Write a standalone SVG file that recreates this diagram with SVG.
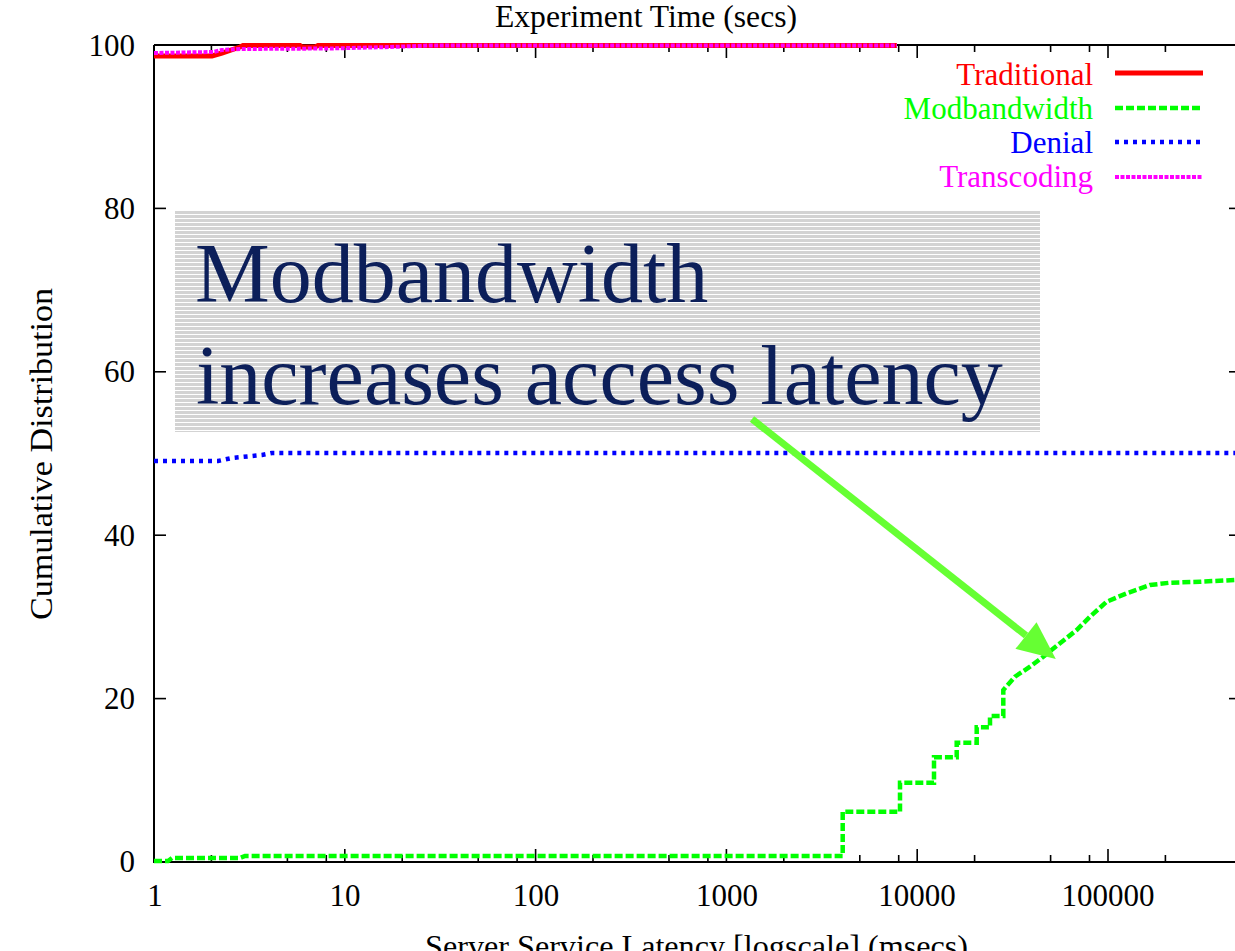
<svg xmlns="http://www.w3.org/2000/svg" width="1235" height="951" viewBox="0 0 1235 951">
  <style>
    .lbl { font-family: "Liberation Serif", "Times New Roman", serif; font-size: 31px; fill: #000; }
    .ylbl { text-anchor: end; }
    .xlbl { text-anchor: middle; }
    .axis { stroke: #000; stroke-width: 2; fill: none; }
    .tick { stroke: #000; stroke-width: 1.6; }
    .series { fill: none; stroke-linejoin: miter; stroke-linecap: butt; }
    .trad { stroke: #ff0000; stroke-width: 5; }
    .modbw { stroke: #00ff00; stroke-width: 4.5; stroke-dasharray: 8 3; }
    .denial { stroke: #0000ff; stroke-width: 4.5; stroke-dasharray: 4 5; }
    .trans { stroke: #ff00ff; stroke-width: 4; stroke-dasharray: 4 1.5; }
    .legend-text { text-anchor: end; }
    .note { font-family: "Liberation Serif", "Times New Roman", serif; font-size: 84px; fill: #0c1f5a; }
  </style>
  <defs>
    <pattern id="stripes" patternUnits="userSpaceOnUse" x="0" y="211" width="4" height="4">
      <rect x="0" y="0" width="4" height="4" fill="#ffffff"/>
      <rect x="0" y="0" width="4" height="3" fill="#d3d3d3"/>
    </pattern>
    <marker id="arrowhead" markerUnits="userSpaceOnUse" markerWidth="40" markerHeight="36" viewBox="0 -18 40 36" refX="0" refY="0" orient="auto" overflow="visible">
      <path d="M0,-17 L38,0 L0,17 z" fill="#66ff33"/>
    </marker>
  </defs>

  <rect x="0" y="0" width="1235" height="951" fill="#ffffff"/>

  <!-- frame -->
  <g id="axes">
    <path class="axis" d="M154,45 L1235,45 M154,45 L154,862 L1235,862"/>
  </g>

  <!-- y ticks, left and mirrored right -->
  <g id="y-ticks" class="tick">
    <line x1="154" y1="208.4" x2="166" y2="208.4"/>
    <line x1="154" y1="371.8" x2="166" y2="371.8"/>
    <line x1="154" y1="535.2" x2="166" y2="535.2"/>
    <line x1="154" y1="698.6" x2="166" y2="698.6"/>
    <line x1="1229" y1="208.4" x2="1235" y2="208.4"/>
    <line x1="1229" y1="371.8" x2="1235" y2="371.8"/>
    <line x1="1229" y1="535.2" x2="1235" y2="535.2"/>
    <line x1="1229" y1="698.6" x2="1235" y2="698.6"/>
  </g>

  <!-- x ticks (log scale), bottom and mirrored top -->
  <g id="x-ticks" class="tick">
    <path d="M344.8,862 V849 M535.6,862 V849 M726.4,862 V849 M917.2,862 V849 M1108,862 V849
             M211.4,862 V855 M287.4,862 V855 M326.3,862 V855
             M402.2,862 V855 M478.2,862 V855 M517.1,862 V855
             M593,862 V855 M669,862 V855 M707.9,862 V855
             M783.8,862 V855 M859.8,862 V855 M898.7,862 V855
             M974.6,862 V855 M1050.6,862 V855 M1089.5,862 V855
             M1165.4,862 V855"/>
    <path d="M344.8,45 V58 M535.6,45 V58 M726.4,45 V58 M917.2,45 V58 M1108,45 V58
             M211.4,45 V52 M287.4,45 V52 M326.3,45 V52
             M402.2,45 V52 M478.2,45 V52 M517.1,45 V52
             M593,45 V52 M669,45 V52 M707.9,45 V52
             M783.8,45 V52 M859.8,45 V52 M898.7,45 V52
             M974.6,45 V52 M1050.6,45 V52 M1089.5,45 V52
             M1165.4,45 V52"/>
  </g>

  <!-- axis labels -->
  <g id="y-labels">
    <text class="lbl ylbl" x="135" y="56">100</text>
    <text class="lbl ylbl" x="135" y="219">80</text>
    <text class="lbl ylbl" x="135" y="382">60</text>
    <text class="lbl ylbl" x="135" y="546">40</text>
    <text class="lbl ylbl" x="135" y="709">20</text>
    <text class="lbl ylbl" x="135" y="872">0</text>
  </g>
  <g id="x-labels">
    <text class="lbl xlbl" x="155" y="906">1</text>
    <text class="lbl xlbl" x="345" y="906">10</text>
    <text class="lbl xlbl" x="536" y="906">100</text>
    <text class="lbl xlbl" x="727" y="906">1000</text>
    <text class="lbl xlbl" x="917" y="906">10000</text>
    <text class="lbl xlbl" x="1108" y="906">100000</text>
  </g>
  <g id="titles">
    <text class="lbl" x="495" y="27" textLength="302" lengthAdjust="spacingAndGlyphs">Experiment Time (secs)</text>
    <text class="lbl" x="425" y="957" textLength="543" lengthAdjust="spacingAndGlyphs">Server Service Latency [logscale] (msecs)</text>
    <text class="lbl xlbl" x="52" y="454" transform="rotate(-90 52 454)" textLength="332" lengthAdjust="spacingAndGlyphs">Cumulative Distribution</text>
  </g>

  <!-- data series -->
  <g id="series">
    <path class="series trad" d="M154,56 L212,56 L222,53 L240,47 L243,45.5 L300,45.5 L302,47 L315,47 L318,45.5 L897,45.5"/>
    <path class="series modbw" d="M154,861 L168,861 L172,858 L240,858 L245,856 L842.7,856 L842.7,811.7 L900,811.7 L900,782.7 L934,782.7 L934,757.3 L956.7,757.3 L956.7,742.7 L976.7,742.7 L976.7,727.3 L990,727.3 L990,716 L1003.3,716 L1003.3,690 L1015,676.7 L1030,666.7 L1043.3,656.7 L1060,643.3 L1076.7,630 L1090,616.7 L1106.7,601.7 L1126.7,593.3 L1150,585 L1170,582.7 L1200,581.7 L1235,580"/>
    <path class="series denial" d="M154,461 L218,461 L232,458 L262,455 L272,453 L1235,453"/>
    <path class="series trans" d="M154,53 L213,52 L222,50 L240,49 L330,48.5 L390,47 L430,45.5 L897,45.5"/>
  </g>

  <!-- key -->
  <g id="legend">
    <text class="lbl legend-text" x="1093" y="85" style="fill:#ff0000">Traditional</text>
    <line class="series trad" x1="1115" y1="73" x2="1203" y2="73"/>
    <text class="lbl legend-text" x="1093" y="119" style="fill:#00ff00">Modbandwidth</text>
    <line class="series modbw" x1="1115" y1="108" x2="1203" y2="108"/>
    <text class="lbl legend-text" x="1093" y="153" style="fill:#0000ff">Denial</text>
    <line class="series denial" x1="1115" y1="142" x2="1203" y2="142"/>
    <text class="lbl legend-text" x="1093" y="187" style="fill:#ff00ff">Transcoding</text>
    <line class="series trans" x1="1115" y1="177" x2="1203" y2="177"/>
  </g>

  <!-- callout box -->
  <g id="note">
    <rect x="175" y="211" width="865" height="221" fill="url(#stripes)"/>
    <text class="note" x="195" y="302">Modbandwidth</text>
    <text class="note" x="196" y="404">increases access latency</text>
  </g>

  <!-- callout pointer -->
  <g id="connectors">
    <line x1="752" y1="419" x2="1026" y2="635.5" stroke="#66ff33" stroke-width="7" marker-end="url(#arrowhead)"/>
  </g>
</svg>
